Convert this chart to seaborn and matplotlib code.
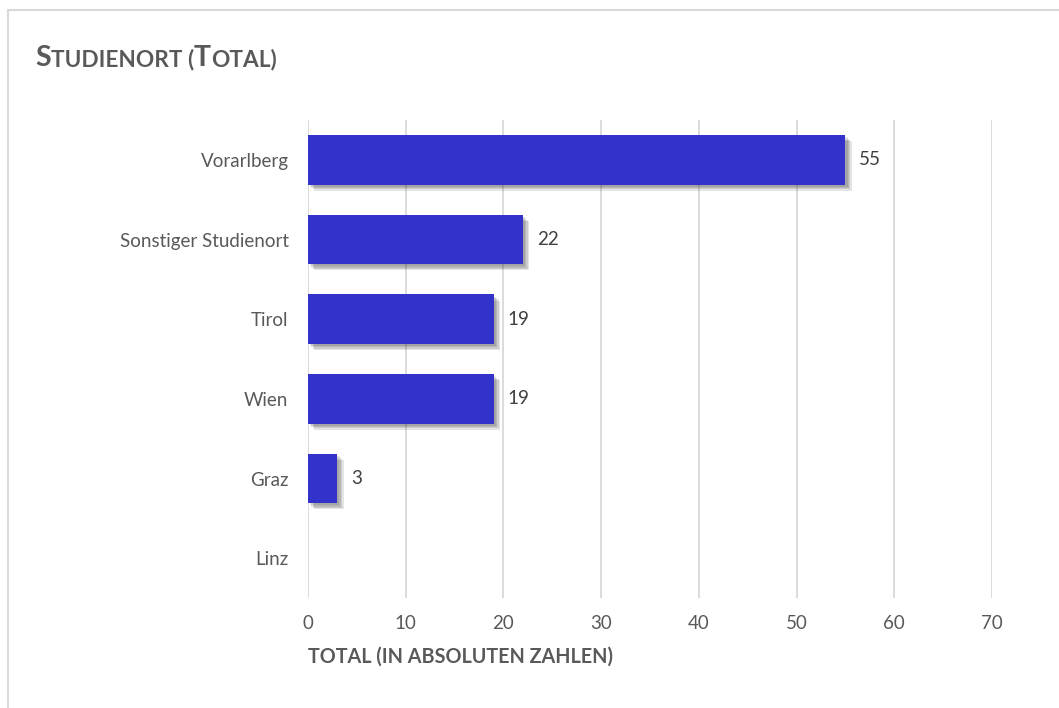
import matplotlib
matplotlib.use("Agg")
import matplotlib.pyplot as plt
import matplotlib.patheffects as pe
from matplotlib.patches import Rectangle
import seaborn as sns
import pandas as pd

# data
orte = ["Vorarlberg", "Sonstiger Studienort", "Tirol", "Wien", "Graz", "Linz"]
anzahl = [55, 22, 19, 19, 3, 0]
x_ticks = [0, 10, 20, 30, 40, 50, 60, 70]

df = pd.DataFrame({"Ort": orte, "Anzahl": anzahl})

sns.set_style("white")
plt.rcParams["font.family"] = ["Lato", "DejaVu Sans"]

fig = plt.figure(figsize=(10.59, 7.08), dpi=100)
ax = fig.add_axes([308 / 1059, 1 - 598 / 708, 684 / 1059, 478 / 708])

sns.barplot(data=df, x="Anzahl", y="Ort", color="#3333CC", saturation=1,
            width=0.62, linewidth=0, ax=ax, zorder=3)

# soft drop shadow, built from a few faint offset copies
shadow = [pe.SimplePatchShadow(offset=(d, -d), alpha=0.12, shadow_rgbFace="#222222")
          for d in (1.5, 2.5, 3.5, 4.5)]
for bar in ax.patches:
    bar.set_path_effects(shadow + [pe.Normal()])

labels = [str(v) if v > 0 else "" for v in anzahl]
ax.bar_label(ax.containers[0], labels=labels, padding=10, fontsize=13.5, color="#404040")

ax.set_xlim(0, 70)
ax.set_xticks(x_ticks)
ax.grid(axis="x", color="#D9D9D9", linewidth=1.3, zorder=0)
ax.set_axisbelow(True)
sns.despine(ax=ax, left=True, bottom=True)
ax.tick_params(axis="both", length=0, labelsize=13.5, labelcolor="#595959")
ax.tick_params(axis="y", pad=14)
ax.tick_params(axis="x", pad=12)
ax.set_ylabel("")
ax.set_xlabel("TOTAL (IN ABSOLUTEN ZAHLEN)", fontsize=14.2, fontweight="bold",
              color="#595959", loc="left", labelpad=11)

# outer chart frame
fig.patches.append(Rectangle((8 / 1059, -0.1), 1.2, 1 - 10 / 708 + 0.1, transform=fig.transFigure,
                             fill=False, edgecolor="#D9D9D9", linewidth=1.5))

# title in small caps
parts = [("S", 20.5), ("TUDIENORT (", 16.3), ("T", 20.5), ("OTAL)", 16.3)]
fig.canvas.draw()
renderer = fig.canvas.get_renderer()
x = 35
for txt, size in parts:
    t = fig.text(x / 1059, 1 - 66 / 708, txt, fontsize=size, fontweight="bold",
                 color="#595959", va="baseline", ha="left")
    x += t.get_window_extent(renderer).width

fig.savefig("out.png", dpi=100)
